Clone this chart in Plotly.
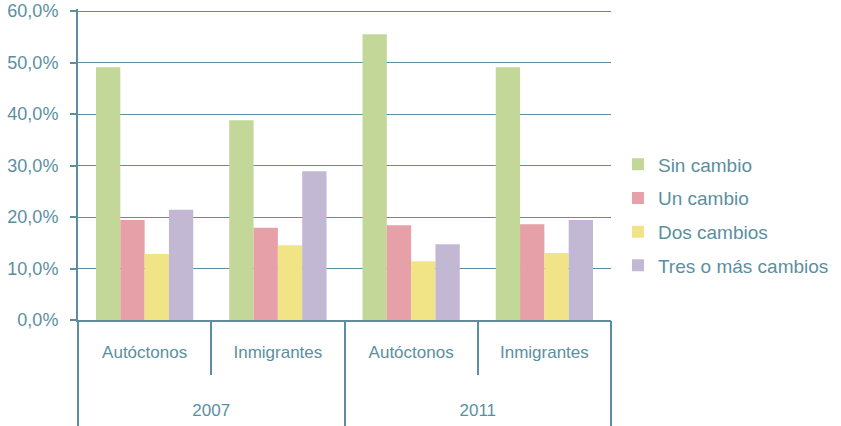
import plotly.graph_objects as go

years = ["2007", "2007", "2011", "2011"]
groups = ["Autóctonos", "Inmigrantes", "Autóctonos", "Inmigrantes"]
series_names = ["Sin cambio", "Un cambio", "Dos cambios", "Tres o más cambios"]
sin_cambio = [49.1, 38.8, 55.5, 49.1]
un_cambio = [19.4, 17.9, 18.4, 18.6]
dos_cambios = [12.8, 14.5, 11.4, 13.0]
tres_cambios = [21.4, 28.9, 14.7, 19.4]
y_ticks = [0, 10, 20, 30, 40, 50, 60]
y_tick_labels = ["0,0%", "10,0%", "20,0%", "30,0%", "40,0%", "50,0%", "60,0%"]

colors = ["#C3D898", "#E6A1A8", "#F1E486", "#C3B8D4"]
teal = "#5B8FA0"
font_family = "Liberation Sans, Arial, sans-serif"

keys = [f"{y} {g}" for y, g in zip(years, groups)]

fig = go.Figure()
for i, (name, vals) in enumerate(zip(series_names, [sin_cambio, un_cambio, dos_cambios, tres_cambios])):
    fig.add_trace(go.Bar(
        x=keys, y=vals, name=name,
        marker=dict(color=colors[i], line=dict(width=0)),
        legendgroup=name,
    ))

# invisible helper trace so the outer (year) category axis exists
fig.add_trace(go.Scatter(
    x=years, y=[None] * len(years), mode="none", xaxis="x2",
    showlegend=False, hoverinfo="skip",
))

n = len(keys)
fig.update_layout(
    width=841, height=426,
    margin=dict(l=78, r=230, t=9, b=106),
    plot_bgcolor="white", paper_bgcolor="white",
    barmode="group", bargap=0.27, bargroupgap=0,
    font=dict(family=font_family, size=16, color=teal),
    showlegend=True,
    legend=dict(xref="container", yref="container", x=0.7348, y=0.4955,
                xanchor="left", yanchor="middle",
                font=dict(size=19, color=teal), tracegroupgap=6,
                itemwidth=30),
    xaxis=dict(
        type="category", range=[-0.5, n - 0.5], automargin=False,
        tickmode="array", tickvals=keys, ticktext=groups, tickson="boundaries",
        showline=True, linecolor=teal, linewidth=2,
        ticks="outside", ticklen=53, tickcolor=teal, tickwidth=2,
        tickfont=dict(size=17, color=teal), ticklabelstandoff=16,
        showgrid=False,
    ),
    xaxis2=dict(
        type="category", overlaying="x", anchor="y", side="bottom", automargin=False,
        range=[-0.5, len(set(years)) - 0.5], tickson="boundaries",
        ticks="outside", ticklen=106, tickcolor=teal, tickwidth=2,
        showline=False, showgrid=False, zeroline=False,
        tickfont=dict(size=17, color=teal), ticklabelstandoff=78,
    ),
    yaxis=dict(
        range=[0, 60.4], tickmode="array", tickvals=y_ticks, ticktext=y_tick_labels,
        automargin=False, ticklabeloverflow="allow",
        showgrid=True, gridcolor=teal, gridwidth=1.2,
        showline=True, linecolor=teal, linewidth=2,
        ticks="outside", ticklen=6, tickcolor=teal, tickwidth=2,
        tickfont=dict(size=18, color=teal), zeroline=False,
        ticklabelstandoff=8,
    ),
)

fig.write_html("out.html", config={"displayModeBar": False},
               post_script="document.body.style.margin='0';")
